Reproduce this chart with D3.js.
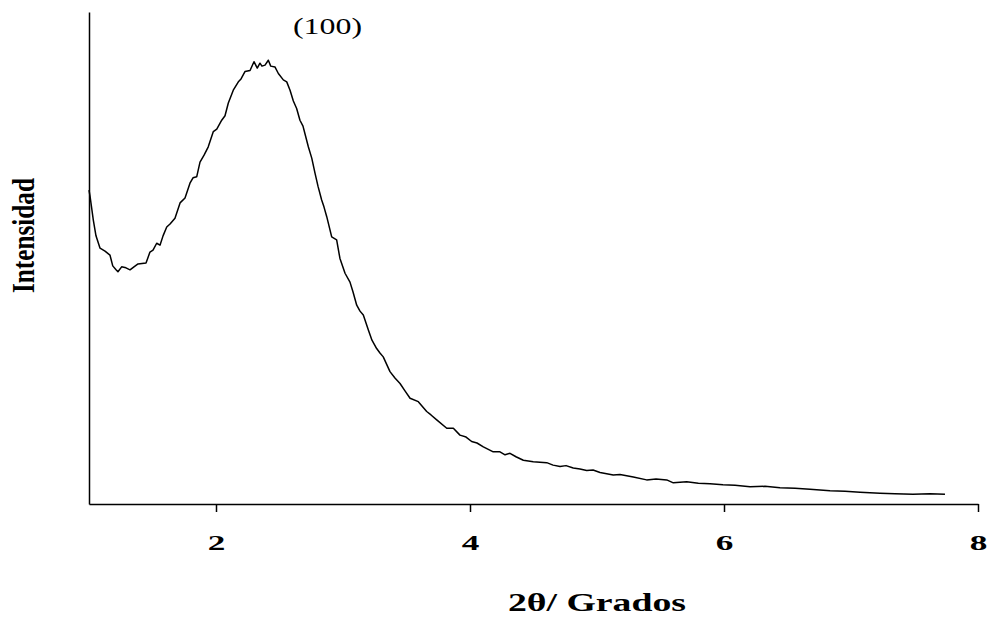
<!DOCTYPE html>
<html>
<head>
<meta charset="utf-8">
<script src="https://cdn.jsdelivr.net/npm/d3@7"></script>
<style>
  html, body { margin: 0; padding: 0; background: #fff; }
  svg { display: block; }
</style>
</head>
<body>
<svg id="chart" width="990" height="617"></svg>
<script>
// 2θ (degrees)
const twoTheta = [
  1.000, 1.008, 1.034, 1.055, 1.087, 1.126, 1.165, 1.187, 1.213, 1.228,
  1.257, 1.291, 1.323, 1.354, 1.386, 1.449, 1.480, 1.504, 1.533, 1.559,
  1.583, 1.612, 1.638, 1.677, 1.717, 1.756, 1.795, 1.819, 1.848, 1.874,
  1.906, 1.939, 1.979, 2.006, 2.045, 2.071, 2.097, 2.136, 2.176, 2.197,
  2.228, 2.268, 2.299, 2.325, 2.346, 2.362, 2.386, 2.412, 2.431, 2.465,
  2.491, 2.530, 2.557, 2.583, 2.609, 2.635, 2.661, 2.685, 2.701, 2.727,
  2.754, 2.780, 2.803, 2.832, 2.850, 2.872, 2.911, 2.950, 2.976, 3.016,
  3.055, 3.079, 3.108, 3.134, 3.160, 3.199, 3.228, 3.265, 3.291, 3.317,
  3.370, 3.409, 3.449, 3.488, 3.528, 3.593, 3.659, 3.693, 3.738, 3.817,
  3.869, 3.921, 3.969, 4.013, 4.055, 4.105, 4.183, 4.236, 4.276, 4.315,
  4.362, 4.420, 4.498, 4.604, 4.654, 4.709, 4.756, 4.813, 4.866, 4.919,
  4.969, 5.024, 5.128, 5.181, 5.286, 5.391, 5.465, 5.549, 5.601, 5.706,
  5.798, 5.890, 5.992, 6.087, 6.205, 6.323, 6.441, 6.559, 6.677, 6.835,
  6.953, 7.071, 7.228, 7.346, 7.488, 7.622, 7.740
];
// Intensity (arbitrary units)
const intensity = [
  63.8, 62.6, 57.7, 54.5, 52.0, 51.4, 50.6, 48.4, 47.6, 47.2,
  48.2, 48.0, 47.6, 48.2, 48.8, 49.0, 51.2, 51.6, 53.0, 52.6,
  54.5, 56.3, 56.9, 58.1, 61.2, 62.2, 65.2, 66.3, 66.5, 69.5,
  70.9, 72.6, 75.7, 76.2, 78.0, 78.9, 81.5, 84.1, 85.8, 86.4,
  87.9, 88.1, 89.9, 88.6, 89.6, 89.0, 89.2, 90.2, 89.0, 88.8,
  87.5, 86.2, 85.8, 84.1, 81.9, 80.4, 78.0, 76.8, 75.2, 72.6,
  70.3, 67.2, 64.6, 61.8, 60.4, 58.4, 54.3, 53.7, 49.9, 46.9,
  45.1, 43.1, 40.4, 39.2, 38.4, 35.4, 33.3, 31.6, 30.7, 29.9,
  26.9, 25.6, 24.5, 23.0, 21.5, 20.8, 18.8, 18.1, 17.1, 15.4,
  15.4, 14.0, 13.6, 12.7, 12.4, 11.6, 10.6, 10.6, 10.0, 10.3,
  9.6, 8.9, 8.6, 8.4, 7.9, 7.6, 7.8, 7.3, 7.1, 6.8,
  6.9, 6.4, 5.9, 6.0, 5.5, 4.9, 5.1, 4.9, 4.3, 4.5,
  4.2, 4.1, 3.9, 3.8, 3.5, 3.6, 3.3, 3.2, 3.0, 2.7,
  2.6, 2.4, 2.2, 2.1, 2.0, 2.1, 2.0
];
const xTicks = [2, 4, 6, 8];
const xDomain = [1, 8];
const yDomain = [0, 100];
const peakLabel = "(100)";
const peakLabelAt = 2.878;
const xTitle = "2θ/ Grados";
const yTitle = "Intensidad";

const svg = d3.select("#chart");
const x = d3.scaleLinear().domain(xDomain).range([89, 978]);
const y = d3.scaleLinear().domain(yDomain).range([504, 12]);

const serif = "'Liberation Serif', 'Times New Roman', serif";

// Y axis (line only)
const yAx = svg.append("g")
  .attr("transform", `translate(${x(xDomain[0])},0)`)
  .call(d3.axisLeft(y).tickValues([]).tickSizeOuter(0));
yAx.select(".domain").attr("stroke", "#000").attr("stroke-width", 1.5);

// X axis
const xAx = svg.append("g")
  .attr("transform", `translate(0,${y(yDomain[0])})`)
  .call(d3.axisBottom(x).tickValues(xTicks).tickSize(8).tickSizeOuter(0).tickFormat(d3.format("d")));
xAx.select(".domain").attr("stroke", "#000").attr("stroke-width", 1.5);
xAx.selectAll(".tick line").attr("stroke", "#000").attr("stroke-width", 1.5);
xAx.selectAll(".tick text")
  .attr("y", 46).attr("dy", 0)
  .attr("transform", "scale(1.6,1)")
  .attr("fill", "#000")
  .style("font-family", serif)
  .style("font-weight", "bold")
  .style("font-size", "22px");

// Curve
const data = twoTheta.map((t, i) => ({ t, v: intensity[i] }));
svg.append("path")
  .datum(data)
  .attr("fill", "none")
  .attr("stroke", "#000")
  .attr("stroke-width", 1.5)
  .attr("stroke-linejoin", "round")
  .attr("d", d3.line().x(d => x(d.t)).y(d => y(d.v)));

// Peak label
svg.append("text")
  .attr("x", x(peakLabelAt))
  .attr("y", 34)
  .attr("text-anchor", "middle")
  .attr("textLength", 69)
  .attr("lengthAdjust", "spacingAndGlyphs")
  .style("font-family", serif)
  .style("font-size", "24px")
  .text(peakLabel);

// X title
svg.append("text")
  .attr("x", 508)
  .attr("y", 611)
  .attr("textLength", 178)
  .attr("lengthAdjust", "spacingAndGlyphs")
  .style("font-family", serif)
  .style("font-weight", "bold")
  .style("font-size", "26px")
  .text(xTitle);

// Y title
svg.append("text")
  .attr("transform", "translate(34,235.5) rotate(-90)")
  .attr("text-anchor", "middle")
  .attr("textLength", 115)
  .attr("lengthAdjust", "spacingAndGlyphs")
  .style("font-family", serif)
  .style("font-weight", "bold")
  .style("font-size", "32px")
  .text(yTitle);
</script>
</body>
</html>
